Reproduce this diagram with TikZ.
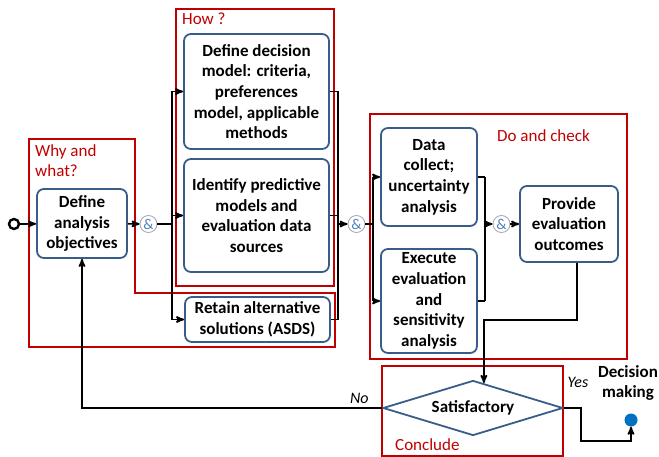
\documentclass[tikz,border=0pt]{standalone}
\usepackage{fontspec}
\setmainfont{Carlito}
\usetikzlibrary{arrows}
\usetikzlibrary{calc}
\usetikzlibrary{shapes.geometric}
\definecolor{taskblue}{RGB}{56,93,138}
\definecolor{zonered}{RGB}{192,0,0}
\definecolor{gateblue}{RGB}{79,129,189}
\definecolor{dotblue}{RGB}{0,112,192}
\tikzset{
    task/.style={
        draw=taskblue,
        line width=1.8pt,
        rounded corners=7pt,
        align=center,
        inner xsep=2pt, inner ysep=0pt,
        font=\fontsize{17}{20.7}\selectfont\bfseries},
    gate/.style={
        circle,
        draw=gray!70,
        thick,
        fill=white,
        minimum size=17pt, inner sep=0pt,
        text=gateblue,
        font=\fontsize{15}{15}\selectfont},
    zone/.style={
        draw=zonered,
        line width=1.7pt},
    zonetext/.style={
        text=zonered,
        inner sep=0pt,
        font=\fontsize{17}{20.5}\selectfont},
    wire/.style={
        draw,
        line width=1.7pt},
    flow/.style={
        wire,
        ->,>=stealth'}}

\begin{document}
\begin{tikzpicture}[x=1pt,y=-1pt]
        \useasboundingbox (0,0) rectangle (659,457);
        % zones
        \draw[zone] (29,139) -- (135,139) -- (135,293) -- (335,293) -- (335,347) -- (29,347) -- cycle;
        \draw[zone] (176,9) rectangle (334,286);
        \draw[zone] (370,114) rectangle (627,359);
        \draw[zone] (382,366) rectangle (563,456);
        \node[zonetext, anchor=north west, align=left] (whylbl) at (35,144) {Why and\\what?};
        \node[zonetext, anchor=west] (howlbl) at (182,19) {How ?};
        \node[zonetext, anchor=west] (dolbl) at (497,136) {Do and check};
        \node[zonetext, anchor=west] (conclbl) at (395,445) {Conclude};

        % tasks
        \node[circle, draw, line width=2.4pt, fill=white, minimum size=10pt, inner sep=0pt] (start) at (14,224) {};
        \node[task, minimum width=90pt, minimum height=69pt] (obj) at (82,223.5) {Define\\analysis\\objectives};
        \node[gate] (g1) at (148.5,224) {\&};
        \node[task, minimum width=145pt, minimum height=115pt] (dm) at (256.5,91.5) {Define decision\\model: criteria,\\preferences\\model, applicable\\methods};
        \node[task, minimum width=145pt, minimum height=113pt] (pm) at (256.5,215.5) {Identify predictive\\models and\\evaluation data\\sources};
        \node[task, minimum width=145pt, minimum height=45pt] (alt) at (257.5,319.5) {Retain alternative\\solutions (ASDS)};
        \node[gate] (g2) at (356.5,224) {\&};
        \node[task, minimum width=96pt, minimum height=98pt] (dc) at (429,177) {Data\\collect;\\uncertainty\\analysis};
        \node[task, minimum width=96pt, minimum height=104pt] (ex) at (429,301) {Execute\\evaluation\\and\\sensitivity\\analysis};
        \node[gate] (g3) at (501.5,224) {\&};
        \node[task, minimum width=98pt, minimum height=76pt] (out) at (569,224) {Provide\\evaluation\\outcomes};
        \node[diamond, draw=taskblue, line width=1.8pt, aspect=3.3, minimum width=180pt, minimum height=55pt, inner sep=0pt,
            font=\fontsize{17}{20}\selectfont\bfseries] (sat) at (473,408) {Satisfactory};
        \node[circle, fill=dotblue, minimum size=13pt, inner sep=0pt] (dec) at (631,420) {};
        \node[align=center, font=\fontsize{17}{20.7}\selectfont\bfseries] (declbl) at (628,383) {Decision\\making};

        % flows
        \coordinate (j1) at (172,224);
        \coordinate (j2) at (338,224);
        \coordinate (j3) at (373,224);
        \coordinate (j4) at (485,224);
        \coordinate (t) at ($(sat.north)!0.12!(sat.east)$);
        \draw[flow] (start) -- (obj);
        \draw[flow] (obj) -- (g1);
        \draw[wire] (g1) -- (j1);
        \draw[wire] (j1 |- dm) -- (j1 |- alt);
        \draw[wire] (j2 |- dm) -- (j2 |- alt);
        \foreach \n in {dm,pm,alt} {
            \draw[flow] (j1 |- \n) -- (\n);
            \draw[wire] (\n) -- (j2 |- \n);
        }
        \draw[flow] (j2) -- (g2);
        \draw[wire] (g2) -- (j3);
        \draw[wire] (j3 |- dc) -- (j3 |- ex);
        \draw[wire] (j4 |- dc) -- (j4 |- ex);
        \foreach \n in {dc,ex} {
            \draw[flow] (j3 |- \n) -- (\n);
            \draw[wire] (\n) -- (j4 |- \n);
        }
        \draw[flow] (j4) -- (g3);
        \draw[flow] (g3) -- (out);
        \draw[flow] ([xshift=8pt]out.south) |- (t |- 0,320) -- (t);
        \draw[flow] (sat.west) -| node[pos=0.038, above, font=\fontsize{16}{18}\selectfont\itshape] {No} (obj.south);
        \draw[flow] (sat.east) -- ++(17,0) |- ($(dec)+(0,21)$) -- (dec);
        \node[font=\fontsize{16}{18}\selectfont\itshape] (yes) at (578,382) {Yes};
    \end{tikzpicture}
\end{document}
